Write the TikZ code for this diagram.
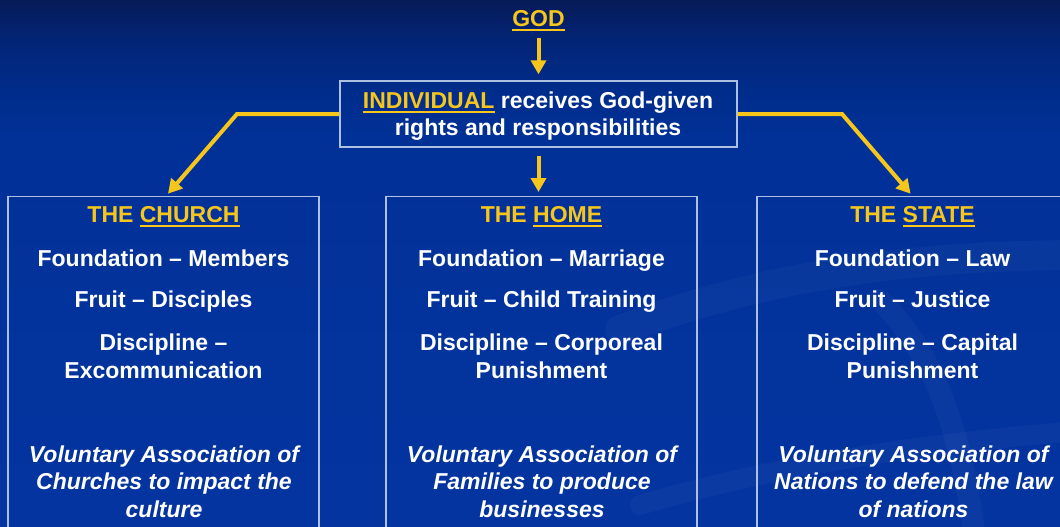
\documentclass[tikz,border=0pt]{standalone}
\usepackage{fontspec}
\setmainfont{Liberation Sans}
\usetikzlibrary{arrows.meta}
\definecolor{gold}{RGB}{246,198,28}
\definecolor{bordc}{RGB}{172,192,225}
\definecolor{bgA}{RGB}{6,27,88}
\definecolor{bgB}{RGB}{3,37,120}
\definecolor{bgC}{RGB}{0,45,140}
\definecolor{bgD}{RGB}{1,49,151}
\definecolor{bgE}{RGB}{4,52,160}
\pgfdeclareverticalshading{bgshade}{100bp}{color(0bp)=(bgE); color(25bp)=(bgE); color(62bp)=(bgD); color(66bp)=(bgC); color(71bp)=(bgB); color(75bp)=(bgA); color(100bp)=(bgA)}
\newcommand{\goldul}[1]{\setbox0\hbox{#1}\rlap{\rule[-5pt]{\wd0}{2.2pt}}\box0}
\tikzset{
  txt/.style={anchor=base, inner sep=0pt, text=white, font=\fontsize{23}{28}\selectfont\bfseries},
  itx/.style={txt, font=\fontsize{23}{28}\selectfont\bfseries\itshape},
  ttl/.style={txt, text=gold},
  panel/.style={draw=bordc, line width=1.3pt, anchor=north, minimum width=311pt, minimum height=360pt, inner sep=0pt},
  arr/.style={draw=gold, line width=4pt, line join=miter, -{Triangle[length=14pt,width=15pt]}},
  swoosh/.style={draw=white, line cap=round}
}
\begin{document}
\begin{tikzpicture}[x=1pt, y=-1pt]
\useasboundingbox (0,0) rectangle (1060,527);
\clip (0,0) rectangle (1060,527);
\shade[shading=bgshade] (0,0) rectangle (1060,527);
% faint background swooshes
\draw[swoosh, opacity=0.03, line width=30pt] (620,330) .. controls (780,270) and (930,255) .. (1090,255);
\draw[swoosh, opacity=0.03, line width=22pt] (880,300) .. controls (930,350) and (960,420) .. (975,540);
\draw[swoosh, opacity=0.03, line width=20pt] (640,505) .. controls (760,470) and (900,445) .. (1090,430);

% top
\node[ttl] (god) at (538.5,26.5) {\goldul{GOD}};
\node[draw=bordc, line width=1.3pt, minimum width=397pt, minimum height=66pt, inner sep=0pt] (ind) at (538.5,114) {};
\node[txt] (ind1) at (538,108) {\textcolor{gold}{\goldul{INDIVIDUAL}} receives God-given};
\node[txt] (ind2) at (538,135) {rights and responsibilities};

% panels
\node[panel] (church) at (163.5,196) {};
\node[panel] (home) at (541.5,196) {};
\node[panel] (state) at (912.5,196) {};

\coordinate (lbend) at (237,114);
\coordinate (rbend) at (842,114);

% connectors
\draw[arr, shorten <=6.5pt, shorten >=6pt] (god.south) -- (ind.north);
\draw[arr, shorten <=8pt, shorten >=4pt] (ind.south -| god.south) -- (home.north -| god.south);
\draw[arr, shorten >=3pt] (ind.west) -- (lbend) -- ([xshift=2.5pt]church.north);
\draw[arr, shorten >=3pt] (ind.east) -- (rbend) -- (state.north);

% church
\node[ttl] (ct) at (163.5,222) {THE \goldul{CHURCH}};
\foreach \t/\y [count=\i] in {Foundation – Members/266, Fruit – Disciples/307, Discipline –/350, Excommunication/378}
  \node[txt] (c\i) at (163.5,\y) {\t};
\foreach \t/\y [count=\i] in {Voluntary Association of/462, Churches to impact the/489.5, culture/517}
  \node[itx] (ci\i) at (164,\y) {\t};

% home
\node[ttl] (ht) at (541.5,222) {THE \goldul{HOME}};
\foreach \t/\y [count=\i] in {Foundation – Marriage/266, Fruit – Child Training/307, Discipline – Corporeal/350, Punishment/378}
  \node[txt] (h\i) at (541.5,\y) {\t};
\foreach \t/\y [count=\i] in {Voluntary Association of/462, Families to produce/489.5, businesses/517}
  \node[itx] (hi\i) at (542,\y) {\t};

% state
\node[ttl] (st) at (912.5,222) {THE \goldul{STATE}};
\foreach \t/\y [count=\i] in {Foundation – Law/266, Fruit – Justice/307, Discipline – Capital/350, Punishment/378}
  \node[txt] (s\i) at (912.5,\y) {\t};
\foreach \t/\y [count=\i] in {Voluntary Association of/462, Nations to defend the law/489.5, of nations/517}
  \node[itx] (si\i) at (913.5,\y) {\t};
\end{tikzpicture}
\end{document}
